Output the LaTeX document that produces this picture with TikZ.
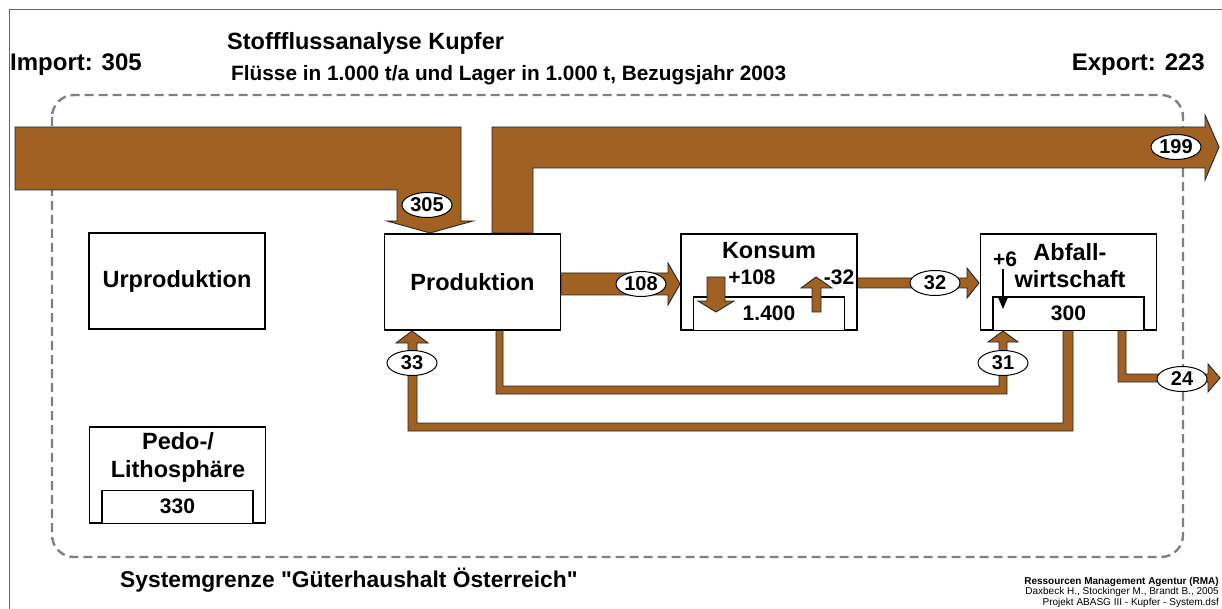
\documentclass[tikz,border=0pt]{standalone}
\usepackage{fontspec}
\setmainfont{Liberation Sans}[Ligatures=TeXOff]
\usetikzlibrary{shapes.geometric,positioning,arrows.meta}
\definecolor{kupfer}{RGB}{160,97,35}
\definecolor{grenze}{RGB}{128,128,128}

\begin{document}
\begin{tikzpicture}[x=1pt,y=-1pt,
    procbox/.style={draw,line width=1.6pt,fill=white,minimum width=176pt,minimum height=96pt,
      align=center,font=\fontsize{23.5}{27}\selectfont\bfseries},
    stockbox/.style={draw,line width=1.3pt,fill=white,minimum width=151pt,minimum height=33pt,
      inner sep=0pt,anchor=south,font=\fontsize{21}{22}\selectfont\bfseries},
    flowval/.style={ellipse,draw,line width=1pt,fill=white,minimum width=50pt,minimum height=25pt,
      inner sep=0pt,font=\fontsize{20}{20}\selectfont\bfseries},
    flow/.style={fill=kupfer,draw=black!85,line width=0.9pt},
    lbl/.style={inner sep=0pt,font=\fontsize{21}{22}\selectfont\bfseries}]
  \useasboundingbox (0,0) rectangle (1222,609);
  % Rahmen und Systemgrenze
  \draw[black!60,line width=0.8pt] (9,609) -- (9,9) -- (1222,9);
  \draw[grenze,line width=2.4pt,dash pattern=on 9pt off 5pt,rounded corners=22pt]
    (52,95) rectangle (1183,557);

  % Fluesse
  \draw[flow] (15,127) -- (461,127) -- (461,221) -- (473,221) -- (430,233) -- (387,221)
    -- (397,221) -- (397,190) -- (15,190) -- cycle;
  \draw[flow] (492,233) -- (492,127) -- (1205,127) -- (1205,115) -- (1219,147) -- (1205,180)
    -- (1205,168) -- (533,168) -- (533,233) -- cycle;
  \draw[flow] (561,273) -- (668,273) -- (668,263) -- (680,284) -- (668,305) -- (668,295)
    -- (561,295) -- cycle;
  \draw[flow] (857,278) -- (967,278) -- (967,268) -- (979,283) -- (967,298) -- (967,288)
    -- (857,288) -- cycle;
  \draw[flow] (496,330) -- (496,394) -- (1007,394) -- (1007,342) -- (1018,342) -- (1003,331)
    -- (988,342) -- (999,342) -- (999,386) -- (503,386) -- (503,330) -- cycle;
  \draw[flow] (1073,330) -- (1073,431) -- (408,431) -- (408,343) -- (396,343) -- (412,331)
    -- (428,343) -- (417,343) -- (417,423) -- (1063,423) -- (1063,330) -- cycle;
  \draw[flow] (1118,330) -- (1118,382) -- (1208,382) -- (1208,392) -- (1220,378) -- (1208,364)
    -- (1208,374) -- (1126,374) -- (1126,330) -- cycle;

  % Prozesse
  \node[procbox] (urprod) at (177,281) {Urproduktion};
  \node[procbox] (prod) at (472.5,282) {Produktion};
  \node[procbox] (konsum) at (769,282) {};
  \node[procbox] (abfall) at (1068.5,282) {};
  \node[procbox] (pedo) at (177.5,475) {};
  \node[stockbox] (konsumlager) at (konsum.south) {1.400};
  \node[stockbox] (abfalllager) at (abfall.south) {300};
  \node[stockbox] (pedolager) at (pedo.south) {330};
  \node[lbl,font=\fontsize{23.5}{27}\selectfont\bfseries] (konsumtxt) at (769,251) {Konsum};
  \node[lbl,align=center,font=\fontsize{23.5}{27}\selectfont\bfseries] (abfalltxt) at (1070,266) {Abfall-\\wirtschaft};
  \node[lbl,align=center,font=\fontsize{23.5}{28}\selectfont\bfseries] (pedotxt) at (178,457) {Pedo-/\\Lithosphäre};

  % Lagerveraenderung
  \draw[flow] (707,277) -- (725,277) -- (725,301) -- (734,301) -- (716,312) -- (698,301)
    -- (707,301) -- cycle;
  \draw[flow] (812,312) -- (812,288) -- (801,288) -- (816,277) -- (832,288) -- (821,288)
    -- (821,312) -- cycle;
  \node[lbl] (zugang) at (752,277) {+108};
  \node[lbl] (abgang) at (839,277) {-32};
  \node[lbl] (abfallzu) at (1005,259) {+6};
  \coordinate (abfallziel) at (1003,309);
  \draw[-{Triangle[length=11pt,width=9pt]},line width=1.4pt] (1003,269) -- (abfallziel);

  % Flusswerte
  \node[flowval] (f305) at (427,205) {305};
  \node[flowval] (f199) at (1176,147) {199};
  \node[flowval] (f108) at (641,284) {108};
  \node[flowval] (f32) at (935,283) {32};
  \node[flowval] (f31) at (1003,363) {31};
  \node[flowval] (f33) at (412,363) {33};
  \node[flowval] (f24) at (1182,379) {24};

  % Beschriftung
  \node[anchor=west,inner sep=0pt,font=\fontsize{23.5}{26}\selectfont\bfseries] (titel) at (227,43) {Stoffflussanalyse Kupfer};
  \node[anchor=west,inner sep=0pt,font=\fontsize{20.8}{24}\selectfont\bfseries] (untertitel) at (231,75) {Flüsse in 1.000 t/a und Lager in 1.000 t, Bezugsjahr 2003};
  \node[anchor=west,inner sep=0pt,font=\fontsize{24}{26}\selectfont\bfseries] (import) at (10,65) {Import: 305};
  \node[anchor=east,inner sep=0pt,font=\fontsize{24}{26}\selectfont\bfseries] (export) at (1205,65) {Export: 223};
  \node[anchor=west,inner sep=0pt,font=\fontsize{22.8}{25}\selectfont\bfseries] (grenztxt) at (120,580) {Systemgrenze "Güterhaushalt Österreich"};
  \node[anchor=north east,inner sep=0pt,align=right,font=\fontsize{10}{10.5}\selectfont] (quelle) at (1219,577)
    {\textbf{Ressourcen Management Agentur (RMA)}\\Daxbeck H., Stockinger M., Brandt B., 2005\\Projekt ABASG III - Kupfer - System.dsf};
\end{tikzpicture}
\end{document}
